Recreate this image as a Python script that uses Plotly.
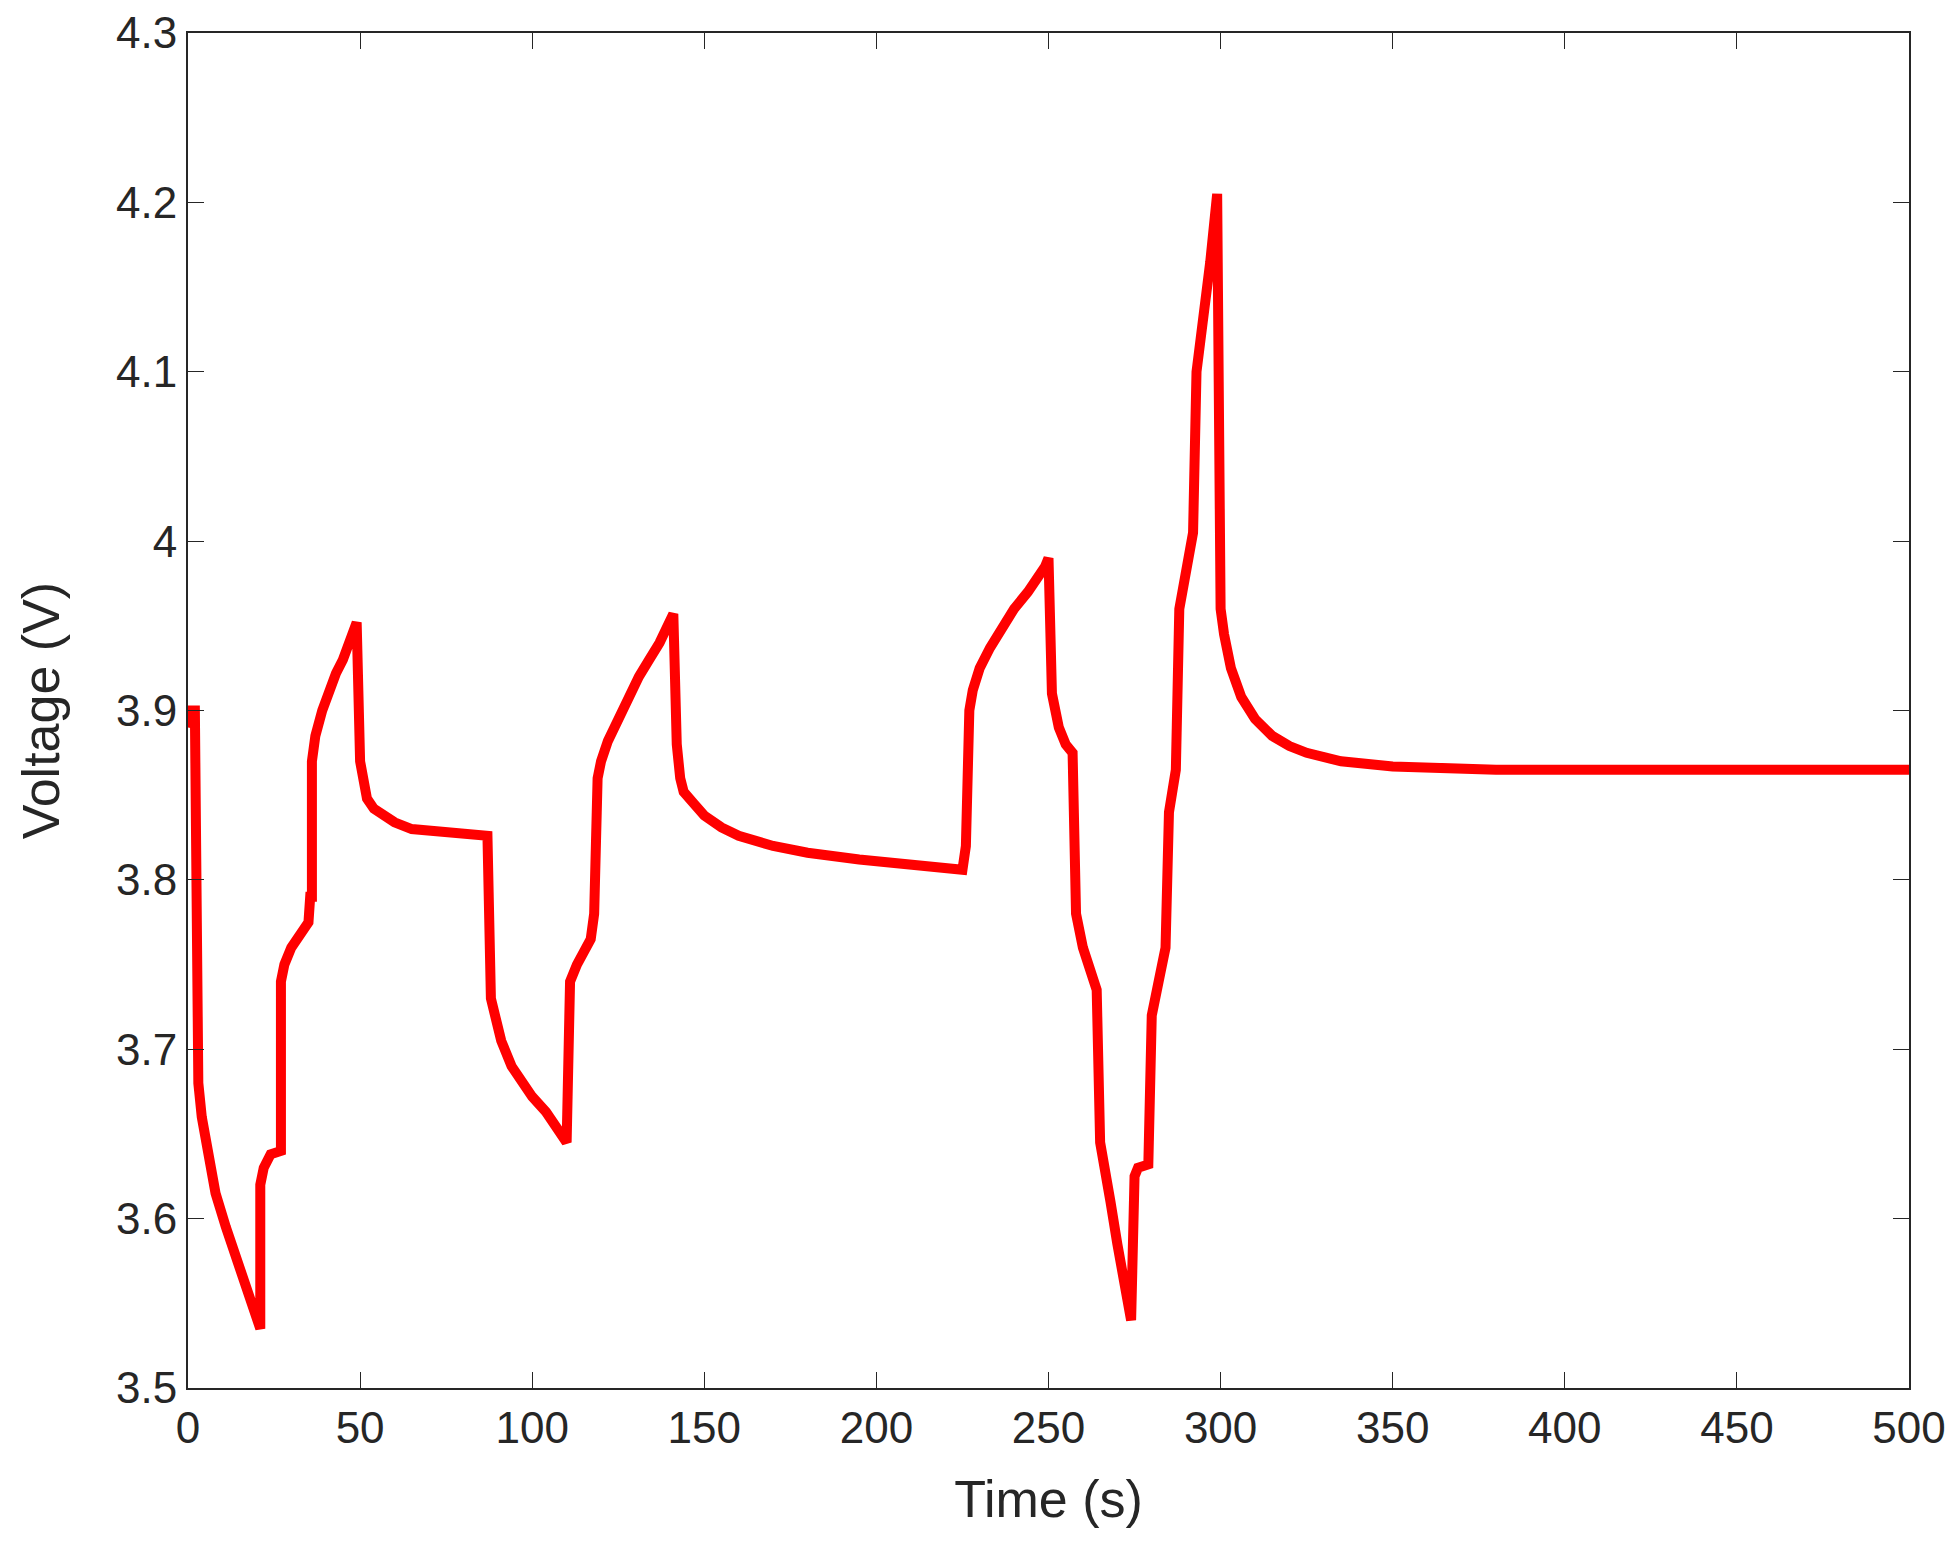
import plotly.graph_objects as go

time_s = [0, 1, 2, 2.5, 3, 4, 6, 8, 11, 14, 17, 20, 21, 21, 22, 24, 27, 27, 28, 30, 33, 35, 35.5, 36, 36,
          37, 39, 41, 43, 45, 47, 49,
          50, 51, 52, 54, 57, 60, 65, 75, 87,
          88, 89, 91, 94, 97, 100, 104, 107, 110,
          111, 113, 117, 118, 119, 120, 122, 125, 128, 131, 134, 137, 141,
          142, 143, 144, 147, 150, 155, 160, 170, 180, 195, 210, 225,
          226, 227, 228, 230, 233, 236, 240, 244, 247, 249, 250,
          251, 253, 255, 257, 258, 260, 263, 264, 265, 266, 268, 270, 272, 274,
          275, 276, 279, 280, 282, 283, 284, 285, 287, 288, 290, 292, 293, 295, 297, 299,
          300, 301, 303, 306, 310, 315, 320, 325, 335, 350, 380, 500]
voltage = [3.89, 3.90, 3.90, 3.75, 3.68, 3.66, 3.635, 3.615, 3.595, 3.578, 3.56, 3.54, 3.535, 3.62, 3.63, 3.638,
           3.64, 3.74, 3.75, 3.76, 3.768, 3.775, 3.79, 3.79, 3.87,
           3.885, 3.9, 3.912, 3.922, 3.93, 3.94, 3.952,
           3.87, 3.855, 3.848, 3.842, 3.838, 3.834, 3.83, 3.828, 3.826,
           3.73, 3.72, 3.705, 3.69, 3.68, 3.672, 3.663, 3.655, 3.645,
           3.74, 3.75, 3.765, 3.78, 3.86, 3.87, 3.882, 3.895, 3.907, 3.92, 3.93, 3.94, 3.957,
           3.88, 3.86, 3.852, 3.845, 3.838, 3.831, 3.826, 3.82, 3.816, 3.812, 3.809, 3.806,
           3.82, 3.9, 3.912, 3.925, 3.937, 3.948, 3.96, 3.97, 3.978, 3.985, 3.99,
           3.91, 3.89, 3.88, 3.875, 3.78, 3.76, 3.74, 3.735, 3.645, 3.63, 3.61, 3.585, 3.565, 3.54,
           3.625, 3.63, 3.632, 3.72, 3.74, 3.755, 3.76, 3.84, 3.865, 3.96, 3.985, 4.005, 4.1, 4.13, 4.165, 4.205,
           3.96, 3.945, 3.925, 3.908, 3.895, 3.885, 3.879, 3.875, 3.87, 3.867, 3.865, 3.865]

fig = go.Figure(go.Scatter(x=time_s, y=voltage, mode="lines",
                           line=dict(color="#ff0000", width=10)))

axis = dict(showgrid=False, zeroline=False, showline=True, linecolor="#262626", linewidth=2,
            mirror="ticks", ticks="inside", ticklen=16, tickcolor="#262626", automargin=False,
            tickfont=dict(size=44, color="#262626"))
fig.update_xaxes(range=[0, 500], dtick=50,
                 title=dict(text="Time (s)", font=dict(size=52, color="#262626"), standoff=30), **axis)
fig.update_yaxes(range=[3.5, 4.3], dtick=0.1,
                 title=dict(text="Voltage (V)", font=dict(size=52, color="#262626"), standoff=40), **axis)

fig.update_layout(
    width=1959, height=1562,
    plot_bgcolor="white", paper_bgcolor="white",
    font=dict(family="Liberation Sans"),
    margin=dict(l=180, r=58, t=25, b=182),
    showlegend=False,
)

fig.write_html("out.html")
